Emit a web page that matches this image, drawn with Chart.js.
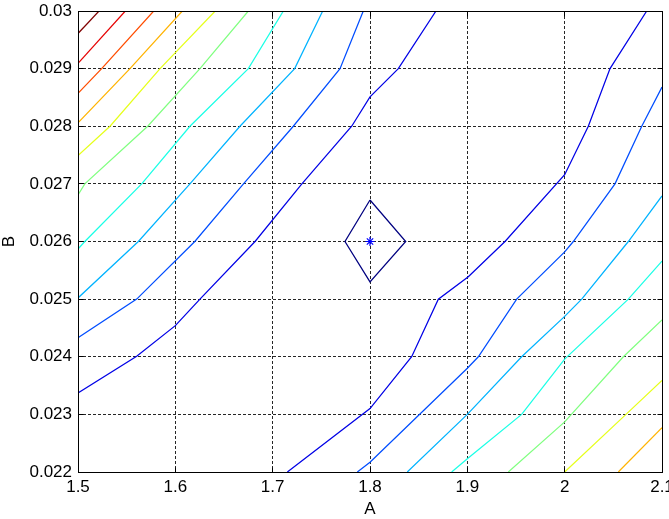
<!DOCTYPE html>
<html>
<head>
<meta charset="utf-8">
<script src="https://cdn.jsdelivr.net/npm/chart.js@4.4.1/dist/chart.umd.min.js"></script>
<style>
  html, body { margin: 0; padding: 0; background: #fff; }
  canvas { display: block; }
</style>
</head>
<body>
<canvas id="grafico" width="669" height="519"></canvas>
<script>
// ejes
const xTicks = [1.5, 1.6, 1.7, 1.8, 1.9, 2.0, 2.1];
const xTickLabels = ["1.5", "1.6", "1.7", "1.8", "1.9", "2", "2.1"];
const yTicks = [0.022, 0.023, 0.024, 0.025, 0.026, 0.027, 0.028, 0.029, 0.03];
const yTickLabels = ["0.022", "0.023", "0.024", "0.025", "0.026", "0.027", "0.028", "0.029", "0.03"];

// colores de cada nivel (jet), del mas bajo al mas alto
const colores = ["#000080", "#0000e6", "#004dff", "#00b3ff", "#1affe6", "#80ff80",
                 "#e6ff1a", "#ffb300", "#ff4d00", "#e60000", "#800000"];

// minimo
const minimo = [[1.8, 0.026]];

// curvas de nivel, puntos [A, B]
const nivel1 = [[1.8, 0.02672], [1.8367, 0.026], [1.8, 0.0253], [1.7743, 0.026], [1.8, 0.02672]];

const nivel2a = [[1.5, 0.02337], [1.5603, 0.02401], [1.6, 0.02454], [1.6253, 0.025], [1.6819, 0.026],
                 [1.73, 0.027], [1.7812, 0.028], [1.8, 0.02851], [1.8291, 0.029], [1.8678, 0.03]];
const nivel2b = [[1.7151, 0.022], [1.8, 0.0231], [1.8428, 0.024], [1.8702, 0.025], [1.901, 0.02539],
                 [1.9387, 0.026], [2.0, 0.02716], [2.0243, 0.028], [2.0466, 0.029], [2.0843, 0.03]];

const nivel3a = [[1.5, 0.02433], [1.5603, 0.025], [1.62, 0.026], [1.67, 0.027], [1.7212, 0.028],
                 [1.7692, 0.029], [1.7931, 0.03]];
const nivel3b = [[1.787, 0.022], [1.8, 0.02217], [1.9, 0.0238], [1.9113, 0.024], [1.9507, 0.025],
                 [2.0, 0.02582], [2.0089, 0.026], [2.0517, 0.027], [2.0792, 0.028], [2.1, 0.02868]];

const nivel4a = [[1.5, 0.02502], [1.562, 0.026], [1.615, 0.027], [1.6664, 0.028], [1.7226, 0.029],
                 [1.7514, 0.03]];
const nivel4b = [[1.8383, 0.022], [1.9, 0.023], [1.9558, 0.024], [2.0, 0.0247], [2.0175, 0.025],
                 [2.0654, 0.026], [2.1, 0.02679]];

const nivel5a = [[1.5, 0.02587], [1.507, 0.026], [1.5654, 0.027], [1.615, 0.028], [1.675, 0.029],
                 [1.711, 0.03]];
const nivel5b = [[1.8839, 0.022], [1.9, 0.02223], [1.9558, 0.023], [2.0, 0.02396], [2.0654, 0.025],
                 [2.1, 0.02566]];

const nivel6a = [[1.5, 0.02681], [1.507, 0.027], [1.5716, 0.028], [1.6253, 0.029], [1.675, 0.03]];
const nivel6b = [[1.9421, 0.022], [2.0, 0.02287], [2.0603, 0.024], [2.1, 0.02464]];

const nivel7a = [[1.5, 0.02749], [1.5329, 0.028], [1.5843, 0.029], [1.641, 0.03]];
const nivel7b = [[2.0, 0.022], [2.063, 0.023], [2.1, 0.02359]];

const nivel8a = [[1.5, 0.02806], [1.5534, 0.029], [1.6072, 0.03]];
const nivel8b = [[2.0551, 0.022], [2.1, 0.02277]];

const nivel9 = [[1.5, 0.02857], [1.5243, 0.029], [1.5778, 0.03]];
const nivel10 = [[1.5, 0.02909], [1.5486, 0.03]];
const nivel11 = [[1.5, 0.02961], [1.5216, 0.03]];

const curvas = [
  [nivel1, 0],
  [nivel2a, 1], [nivel2b, 1],
  [nivel3a, 2], [nivel3b, 2],
  [nivel4a, 3], [nivel4b, 3],
  [nivel5a, 4], [nivel5b, 4],
  [nivel6a, 5], [nivel6b, 5],
  [nivel7a, 6], [nivel7b, 6],
  [nivel8a, 7], [nivel8b, 7],
  [nivel9, 8], [nivel10, 9], [nivel11, 10],
];

const aPuntos = (lista) => lista.map(([x, y]) => ({ x, y }));

const fuente = { family: "'Liberation Sans', Arial, sans-serif", size: 17 };

const datasets = curvas.map(([puntos, nivel]) => ({
  data: aPuntos(puntos),
  showLine: true,
  borderColor: colores[nivel],
  borderWidth: 1.25,
  pointRadius: 0,
  tension: 0,
  fill: false,
}));

datasets.unshift({
  data: aPuntos(minimo),
  showLine: false,
  pointStyle: "star",
  pointRadius: 4.5,
  borderWidth: 1.2,
  borderColor: "#0000ff",
  backgroundColor: "#0000ff",
});

// marco completo y marcas hacia adentro en los cuatro lados
const marco = {
  id: "marco",
  afterDatasetsDraw(chart) {
    const { ctx, chartArea: a, scales } = chart;
    const alinear = (p) => Math.round(p - 0.5) + 0.5;
    const l = alinear(a.left), r = alinear(a.right), t = alinear(a.top), b = alinear(a.bottom);
    const largo = 5;
    ctx.save();
    ctx.setLineDash([]);
    ctx.strokeStyle = "#000";
    ctx.lineWidth = 1;
    ctx.strokeRect(l, t, r - l, b - t);
    ctx.beginPath();
    xTicks.forEach((v) => {
      const px = alinear(scales.x.getPixelForValue(v));
      ctx.moveTo(px, b); ctx.lineTo(px, b - largo);
      ctx.moveTo(px, t); ctx.lineTo(px, t + largo);
    });
    yTicks.forEach((v) => {
      const py = alinear(scales.y.getPixelForValue(v));
      ctx.moveTo(l, py); ctx.lineTo(l + largo, py);
      ctx.moveTo(r, py); ctx.lineTo(r - largo, py);
    });
    ctx.stroke();
    ctx.restore();
  },
};

const etiqueta = (valores, textos) => (value) => {
  const i = valores.findIndex((v) => Math.abs(v - value) < 1e-9);
  return i >= 0 ? textos[i] : "";
};

const canvas = document.getElementById("grafico");

new Chart(canvas, {
  type: "scatter",
  data: { datasets },
  options: {
    responsive: false,
    animation: false,
    devicePixelRatio: 1,
    layout: { padding: { top: 11, right: 7, left: 0, bottom: 0 } },
    plugins: { legend: { display: false }, tooltip: { enabled: false } },
    scales: {
      x: {
        type: "linear",
        min: 1.5,
        max: 2.1,
        afterBuildTicks: (scale) => { scale.ticks = xTicks.map((value) => ({ value })); },
        afterFit: (scale) => { scale.height = 47; scale.paddingLeft = 0; scale.paddingRight = 0; },
        ticks: {
          autoSkip: false,
          maxRotation: 0,
          padding: 5,
          color: "#000",
          font: fuente,
          callback: etiqueta(xTicks, xTickLabels),
        },
        grid: { color: "#262626", lineWidth: 1, drawTicks: false },
        border: { display: false, dash: [3, 2] },
        title: { display: true, text: "A", color: "#000", font: { ...fuente, lineHeight: 1.1 }, padding: 0 },
      },
      y: {
        type: "linear",
        min: 0.022,
        max: 0.03,
        afterBuildTicks: (scale) => { scale.ticks = yTicks.map((value) => ({ value })); },
        afterFit: (scale) => { scale.width = 78; scale.paddingTop = 0; scale.paddingBottom = 0; },
        ticks: {
          autoSkip: false,
          padding: 6,
          color: "#000",
          font: fuente,
          callback: etiqueta(yTicks, yTickLabels),
        },
        grid: { color: "#262626", lineWidth: 1, drawTicks: false },
        border: { display: false, dash: [3, 2] },
        title: { display: true, text: "B", color: "#000", font: { ...fuente, lineHeight: 1.1 }, padding: 0 },
      },
    },
  },
  plugins: [marco],
});
</script>
</body>
</html>
